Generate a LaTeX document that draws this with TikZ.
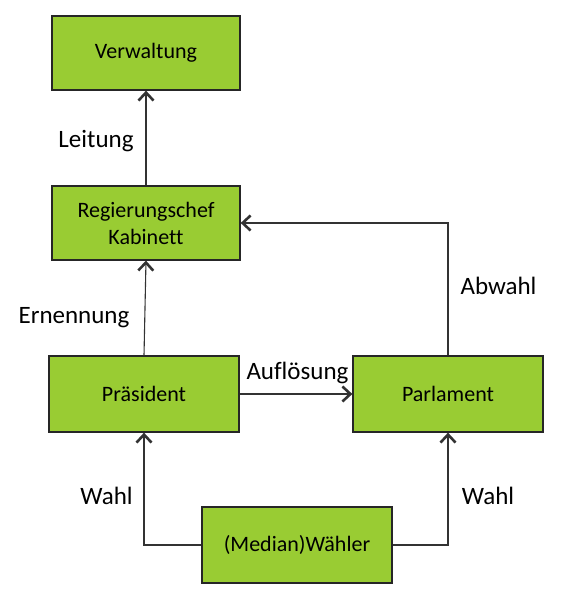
\documentclass[tikz,border=0pt]{standalone}
\usepackage{fontspec}
\setmainfont[Ligatures=CommonOff]{Carlito}
\usetikzlibrary{arrows.meta}
\definecolor{boxgreen}{HTML}{99CC33}
\definecolor{linegray}{HTML}{333333}
\tikzset{
  box/.style={draw=black!85, line width=1.3pt, fill=boxgreen, minimum width=188pt, minimum height=74pt, inner sep=0pt, align=center, font=\fontsize{22}{27}\selectfont},
  conn/.style={draw=linegray, line width=1.1pt},
  arr/.style={conn, -{Straight Barb[length=8pt,width=15pt,line width=2.6pt]}},
  lab/.style={anchor=base, inner sep=0pt, font=\fontsize{25}{30}\selectfont}
}
\begin{document}
\begin{tikzpicture}[x=1pt,y=-1pt]
\useasboundingbox (0,0) rectangle (581,596);
\node[box] (verw) at (146,53) {\raisebox{-2pt}{Verwaltung}};
\node[box] (reg) at (146,223) {Regierungschef\\Kabinett};
\node[box, minimum width=190pt, minimum height=76pt] (pras) at (144,394) {Präsident};
\node[box, minimum width=190pt, minimum height=76pt] (parl) at (448,394) {Parlament};
\node[box, minimum width=190pt, minimum height=76pt] (wahl) at (297,545) {(Median)Wähler};

\draw[arr] (reg.north) -- (verw.south);
\draw[arr] (pras.north) -- (reg.south);
\draw[arr] (pras.east) -- (parl.west);
\draw[arr] (parl.north) |- (reg.east);
\draw[arr] (wahl.west) -| (pras.south);
\draw[arr] (wahl.east) -| (parl.south);

\node[lab] (l1) at (96,147) {Leitung};
\node[lab] (l2) at (74,323) {Ernennung};
\node[lab] (l3) at (297.5,379) {Auflösung};
\node[lab] (l4) at (498.5,294) {Abwahl};
\node[lab] (l5) at (106.5,504) {Wahl};
\node[lab] (l6) at (488,504) {Wahl};
\end{tikzpicture}
\end{document}
